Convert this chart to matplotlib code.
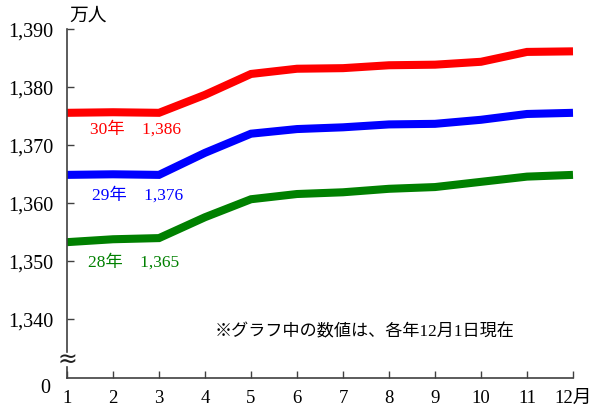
import matplotlib
matplotlib.use("Agg")
import matplotlib.pyplot as plt

months = [1, 2, 3, 4, 5, 6, 7, 8, 9, 10, 11, 12]
x_labels = ["1", "2", "3", "4", "5", "6", "7", "8", "9", "10", "11", "12月"]
y_ticks = [1340, 1350, 1360, 1370, 1380, 1390]
y_tick_labels = ["1,340", "1,350", "1,360", "1,370", "1,380", "1,390"]

h30 = [1375.6, 1375.7, 1375.6, 1378.7, 1382.3, 1383.2, 1383.3, 1383.8, 1383.9, 1384.4, 1386.1, 1386.2]
h29 = [1364.9, 1365.0, 1364.9, 1368.7, 1372.0, 1372.8, 1373.1, 1373.6, 1373.7, 1374.4, 1375.4, 1375.6]
h28 = [1353.3, 1353.8, 1354.0, 1357.6, 1360.7, 1361.6, 1361.9, 1362.5, 1362.8, 1363.7, 1364.6, 1364.9]
series_labels = ["30年\u30001,386", "29年\u30001,376", "28年\u30001,365"]
colors = ["#ff0000", "#0000ff", "#008000"]

FONT = ["Liberation Serif", "Noto Sans CJK JP", "DejaVu Sans"]
plt.rcParams["font.family"] = FONT

fig = plt.figure(figsize=(6.0, 4.19), dpi=100)
ax = fig.add_axes([67/600, 1 - 377.7/419, (573-67)/600, (377.7-29.3)/419])

ymin, ymax = 1329.93, 1390
for vals, c in zip([h30, h29, h28], colors):
    ax.plot(months, vals, color=c, lw=5.8, solid_capstyle="butt", solid_joinstyle="miter", clip_on=False)

ax.set_xlim(1, 12)
ax.set_ylim(ymin, ymax)
ax.set_xticks(months)
ax.set_xticklabels(x_labels, fontsize=13.5)
ax.set_yticks(y_ticks)
ax.set_yticklabels(y_tick_labels, fontsize=14.5)
ax.tick_params(axis="both", direction="in", length=5, width=1, color="#404040")
ax.tick_params(axis="y", pad=10)
ax.tick_params(axis="x", pad=9)

for s in ["top", "right", "left"]:
    ax.spines[s].set_visible(False)
ax.spines["bottom"].set_color("#404040")
ax.spines["bottom"].set_linewidth(1.2)

# left spine with break
def yfrac(v):
    return (v - ymin) / (ymax - ymin)
ax.plot([0, 0], [yfrac(1334.4), 1], transform=ax.transAxes, color="#404040", lw=1.2, clip_on=False)
ax.plot([0, 0], [0, yfrac(1331.7)], transform=ax.transAxes, color="#404040", lw=1.2, clip_on=False)
ax.text(0.0, yfrac(1333.0), "≈", transform=ax.transAxes, fontsize=17, family="DejaVu Sans",
        ha="center", va="center", color="#202020")

# "0" label
ax.text(-0.042, -0.032, "0", transform=ax.transAxes, fontsize=14.5, ha="center", va="center")

# unit
ax.text(0.005, 1.04, "万人", transform=ax.transAxes, fontsize=13.5, ha="left", va="center",
        family=["Noto Sans CJK JP"])

# series labels
label_pos = [(1.5, 1372.8), (1.55, 1361.3), (1.45, 1349.8)]
for (lx, ly), txt, c in zip(label_pos, series_labels, colors):
    ax.text(lx, ly, txt, color=c, fontsize=12.5, ha="left", va="center")

ax.text(4.2, 1337.8, "※グラフ中の数値は、各年12月1日現在", fontsize=12.3, ha="left", va="center")

fig.savefig("out.png", dpi=100)
